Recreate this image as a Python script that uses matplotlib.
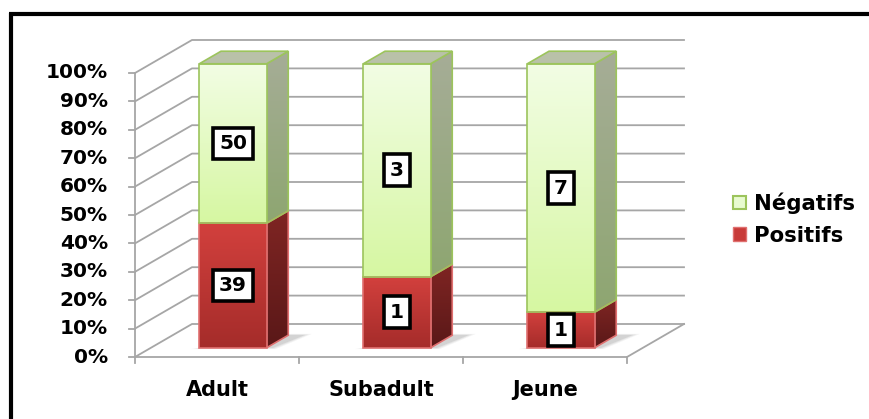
import matplotlib
matplotlib.use("Agg")
import matplotlib.pyplot as plt
import numpy as np
from matplotlib.patches import Polygon, Patch
from matplotlib.colors import to_rgb

# --- data ---
categories = ["Adult", "Subadult", "Jeune"]
positifs = [39, 1, 1]
negatifs = [50, 3, 7]
y_ticks = [0, 10, 20, 30, 40, 50, 60, 70, 80, 90, 100]
series_names = ["Négatifs", "Positifs"]

# --- pseudo-3D projection (pixel space) ---
X0, CAT_W = 135, 164          # front plane: left edge, width of one category
Y0, Y_SCALE = 357, 2.84       # front plane: 0% baseline, pixels per percent
DEPTH_DX, DEPTH_DY = 57, -33  # offset of back wall
BAR_HALF = 0.205
BAR_D0, BAR_D1 = 0.28, 0.66

GRID = "#a6a6a6"


def proj(c, p, d):
    return (X0 + c * CAT_W + d * DEPTH_DX, Y0 - p * Y_SCALE + d * DEPTH_DY)


def grad_poly(ax, pts, c_top, c_bot, edge, z, lw=1.2):
    pts = np.array(pts)
    xmin, xmax = pts[:, 0].min(), pts[:, 0].max()
    ymin, ymax = pts[:, 1].min(), pts[:, 1].max()
    t = np.linspace(0, 1, 64)[:, None]
    g = (1 - t) * np.array(to_rgb(c_top)) + t * np.array(to_rgb(c_bot))
    im = ax.imshow(g[:, None, :], extent=(xmin, xmax, ymax, ymin), origin="upper",
                   aspect="auto", interpolation="bilinear", zorder=z)
    poly = Polygon(pts, closed=True, fc="none", ec=edge, lw=lw, zorder=z + 0.1,
                   joinstyle="miter")
    ax.add_patch(poly)
    im.set_clip_path(poly)


fig = plt.figure(figsize=(8.7, 4.19), dpi=100)
ax = fig.add_axes([0, 0, 1, 1])
ax.set_xlim(0, 870)
ax.set_ylim(419, 0)
ax.axis("off")

# outer frame (left and top edges visible)
ax.plot([11, 11], [13, 419], color="black", lw=3, solid_capstyle="butt", zorder=10)
ax.plot([9.5, 870], [14.5, 14.5], color="black", lw=3, solid_capstyle="butt", zorder=10)

ncat = len(categories)

# gridlines on side and back walls
for p in y_ticks:
    xs, ys = zip(proj(0, p, 0), proj(0, p, 1), proj(ncat, p, 1))
    ax.plot(xs, ys, color=GRID, lw=1.3, zorder=1)
    tx, ty = proj(0, p, 0)
    ax.plot([tx - 6, tx], [ty, ty], color=GRID, lw=1.3, zorder=1)
    ax.text(tx - 27, ty, f"{p}%", ha="right", va="center", fontsize=14.5,
            fontweight="bold", color="black")

# front axis and floor
xs, ys = zip(proj(0, 100, 0), proj(0, 0, 0), proj(ncat, 0, 0), proj(ncat, 0, 1))
ax.plot(xs, ys, color=GRID, lw=1.3, zorder=1)
for c in range(ncat + 1):
    tx, ty = proj(c, 0, 0)
    ax.plot([tx, tx], [ty, ty + 6], color=GRID, lw=1.3, zorder=1)

for i, cat in enumerate(categories):
    c = i + 0.5
    tx, ty = proj(c, 0, 0)
    ax.text(tx, ty + 33, cat, ha="center", va="center", fontsize=15,
            fontweight="bold", color="black")

# bars
for i in range(ncat):
    c = i + 0.5
    l, r = c - BAR_HALF, c + BAR_HALF
    total = positifs[i] + negatifs[i]
    p_pos = positifs[i] / total * 100

    # soft floor shadow to the right of the bar
    for k, a in enumerate([0.06, 0.08, 0.10]):
        s = 0.04 - k * 0.015
        shadow = [proj(l - s, 0, BAR_D0 - s), proj(r + 0.03 + s, 0, BAR_D0 - s),
                  proj(r + 0.09 + s, 0, BAR_D1 + s), proj(r, 0, BAR_D1 + s)]
        ax.add_patch(Polygon(shadow, closed=True, fc="#404040", ec="none", alpha=a, zorder=2))

    segs = [(0, p_pos, "#d2403d", "#a52c2a", "#7f2523", "#5a1818", "#e07070", positifs[i]),
            (p_pos, 100, "#f2fde4", "#d6f7a2", "#a6ad97", "#8ea671", "#9cc45c", negatifs[i])]
    for p0, p1, ft, fb, st, sb, ec, val in segs:
        front = [proj(l, p0, BAR_D0), proj(r, p0, BAR_D0), proj(r, p1, BAR_D0), proj(l, p1, BAR_D0)]
        side = [proj(r, p0, BAR_D0), proj(r, p0, BAR_D1), proj(r, p1, BAR_D1), proj(r, p1, BAR_D0)]
        grad_poly(ax, side, st, sb, ec, 3)
        grad_poly(ax, front, ft, fb, ec, 3.5)
        lx, ly = proj(c, (p0 + p1) / 2, BAR_D0)
        ax.text(lx, ly, str(val), ha="center", va="center", fontsize=14.5,
                fontweight="bold", color="black", zorder=6,
                bbox=dict(boxstyle="square,pad=0.32", fc="white", ec="black", lw=2.6))
    top = [proj(l, 100, BAR_D0), proj(r, 100, BAR_D0), proj(r, 100, BAR_D1), proj(l, 100, BAR_D1)]
    ax.add_patch(Polygon(top, closed=True, fc="#b9c1a9", ec="#9cc45c", lw=1.2, zorder=3.6))

handles = [Patch(fc="#e8fbd0", ec="#9cc45c", lw=1.5), Patch(fc="#c83a38", ec="#e07070", lw=1)]
leg = ax.legend(handles, series_names, loc="center left", bbox_to_anchor=(733 / 870, 1 - 219 / 419),
                frameon=False, handlelength=0.62, handleheight=0.62, handletextpad=0.35,
                labelspacing=0.55, borderpad=0, borderaxespad=0,
                prop=dict(size=15.3, weight="bold"))

fig.savefig("out.png", dpi=100, facecolor="white")
